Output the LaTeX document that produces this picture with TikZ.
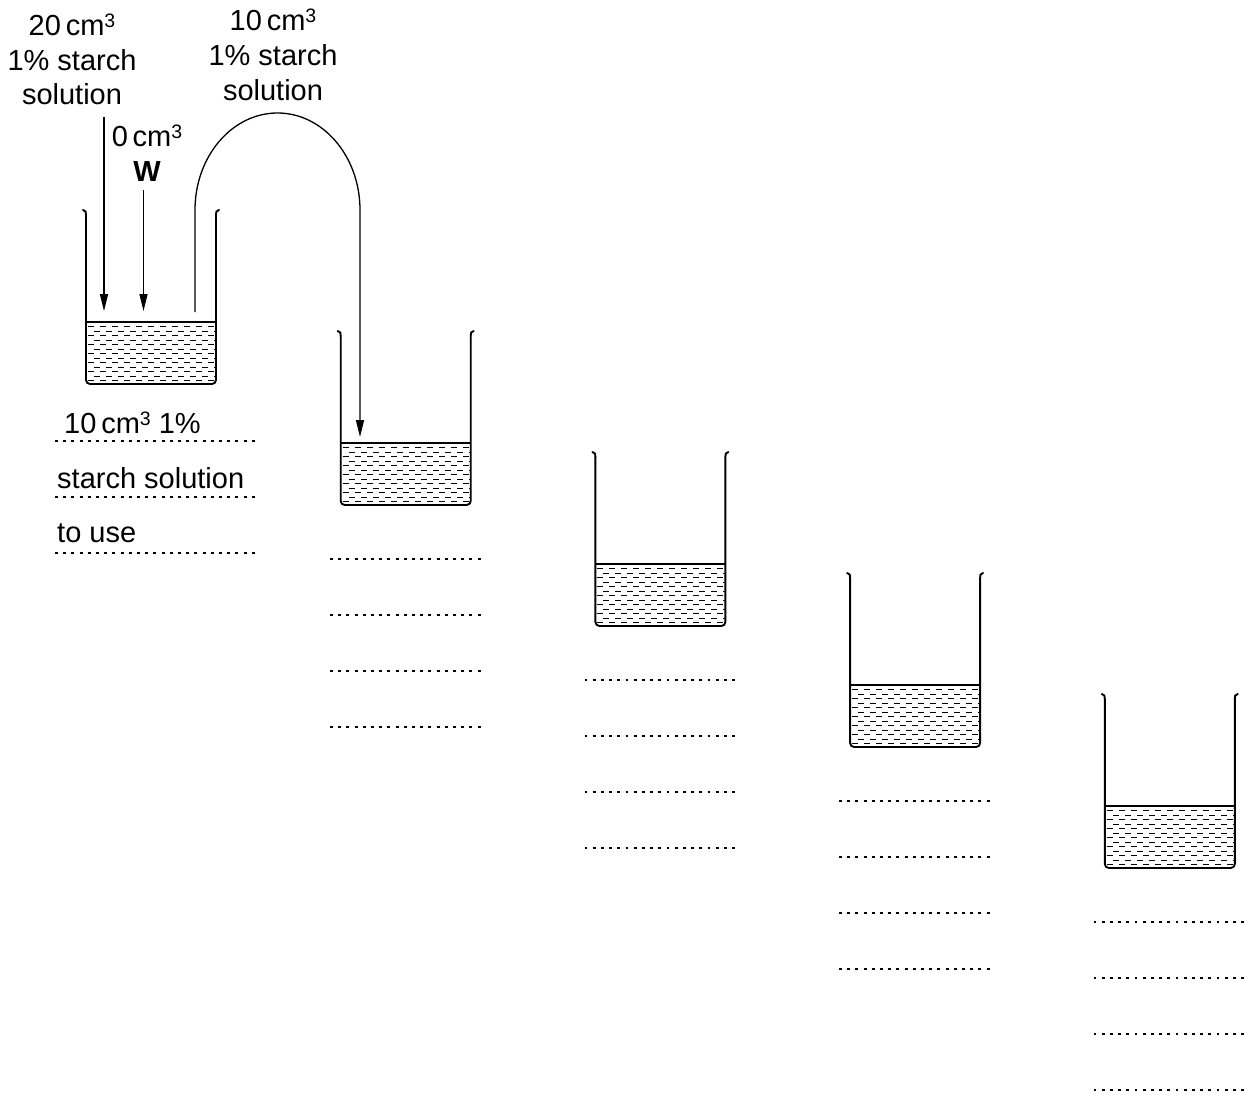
\documentclass[tikz,border=0pt]{standalone}
\usepackage{fontspec}
\setmainfont{Liberation Sans}
\usetikzlibrary{arrows.meta}
\newcommand\cubed{\raisebox{0.25em}{\fontsize{19.5}{19.5}\selectfont 3}}
\tikzset{
  wall/.style={line width=1.9pt, line cap=round, line join=round},
  feed/.style={line width=1.3pt, -{Triangle[length=17pt,width=8pt]}},
  lbl/.style={font=\fontsize{29}{34}\selectfont, inner sep=0pt, anchor=base},
  lblw/.style={font=\fontsize{29}{34}\selectfont, inner sep=0pt, anchor=base west},
  dotrow/.style={line width=2.9pt, dash pattern=on 2.9pt off 5.3pt},
  liq/.style={line width=0.8pt},
  beaker/.pic={
    \begin{scope}
      \clip (0.8,112) rectangle (129.2,173);
      \foreach \k in {0,...,12} {
        \pgfmathsetmacro\yy{116.5+4.5*\k}
        \pgfmathsetmacro\ph{mod(\k,2)*6}
        \draw[liq, dash pattern=on 6pt off 6pt, dash phase=\ph pt] (2,\yy) -- (130,\yy);
      }
    \end{scope}
    \draw[line width=1.6pt] (0,112) -- (130,112);
    \draw[wall, rounded corners=4pt] (0,5) -- (0,174) -- (130,174) -- (130,5);
    \draw[wall] (-3,0) .. controls (0,0.5) and (0,2) .. (0,5);
    \draw[wall] (133,0) .. controls (130,0.5) and (130,2) .. (130,5);
  }
}
\begin{document}
\begin{tikzpicture}[x=1pt,y=-1pt]
  \useasboundingbox (0,0) rectangle (1250,1095);
  % beakers
  \foreach \i in {0,...,4} {
    \pic at ({86+254.7*\i},{210+121*\i}) {beaker};
  }
  % labels at top
  \node[lbl] (t1a) at (72,35) {20\,cm\cubed};
  \node[lbl] (t1b) at (72,70) {1\% starch};
  \node[lbl] (t1c) at (72,104) {solution};
  \node[lbl] (t2a) at (273,30) {10\,cm\cubed};
  \node[lbl] (t2b) at (273,65) {1\% starch};
  \node[lbl] (t2c) at (273,100) {solution};
  \node[lbl] (t3a) at (147,146) {0\,cm\cubed};
  \node[lbl] (t3b) at (147,181) {\bfseries W};
  % arrows
  \coordinate (a1s) at (104,117);
  \coordinate (a1e) at (104,311);
  \coordinate (a2s) at (143.5,190);
  \coordinate (a2e) at (143.5,311);
  \coordinate (ps) at (195,312);
  \coordinate (pt) at (195,210);
  \coordinate (pe) at (360,437);
  \draw[feed] (a1s) -- (a1e);
  \draw[feed] (a2s) -- (a2e);
  \draw[feed] (ps) -- (pt) arc[start angle=180, end angle=360, x radius=82.5, y radius=97] -- (pe);
  % beaker 1 answer lines
  \foreach \j in {0,1,2} {
    \draw[dotrow] (55,{441+56*\j}) -- (256,{441+56*\j});
  }
  \node[lblw] (b1a) at (64,433) {10\,cm\cubed\ 1\%};
  \node[lblw] (b1b) at (57,488) {starch solution};
  \node[lblw] (b1c) at (57,542) {to use};
  % other answer lines
  \foreach \i in {0,...,3} {
    \foreach \j in {0,...,3} {
      \draw[dotrow] ({330+254.5*\i},{559+121*\i+56*\j}) -- ({330+254.5*\i+155},{559+121*\i+56*\j});
    }
  }
\end{tikzpicture}
\end{document}
